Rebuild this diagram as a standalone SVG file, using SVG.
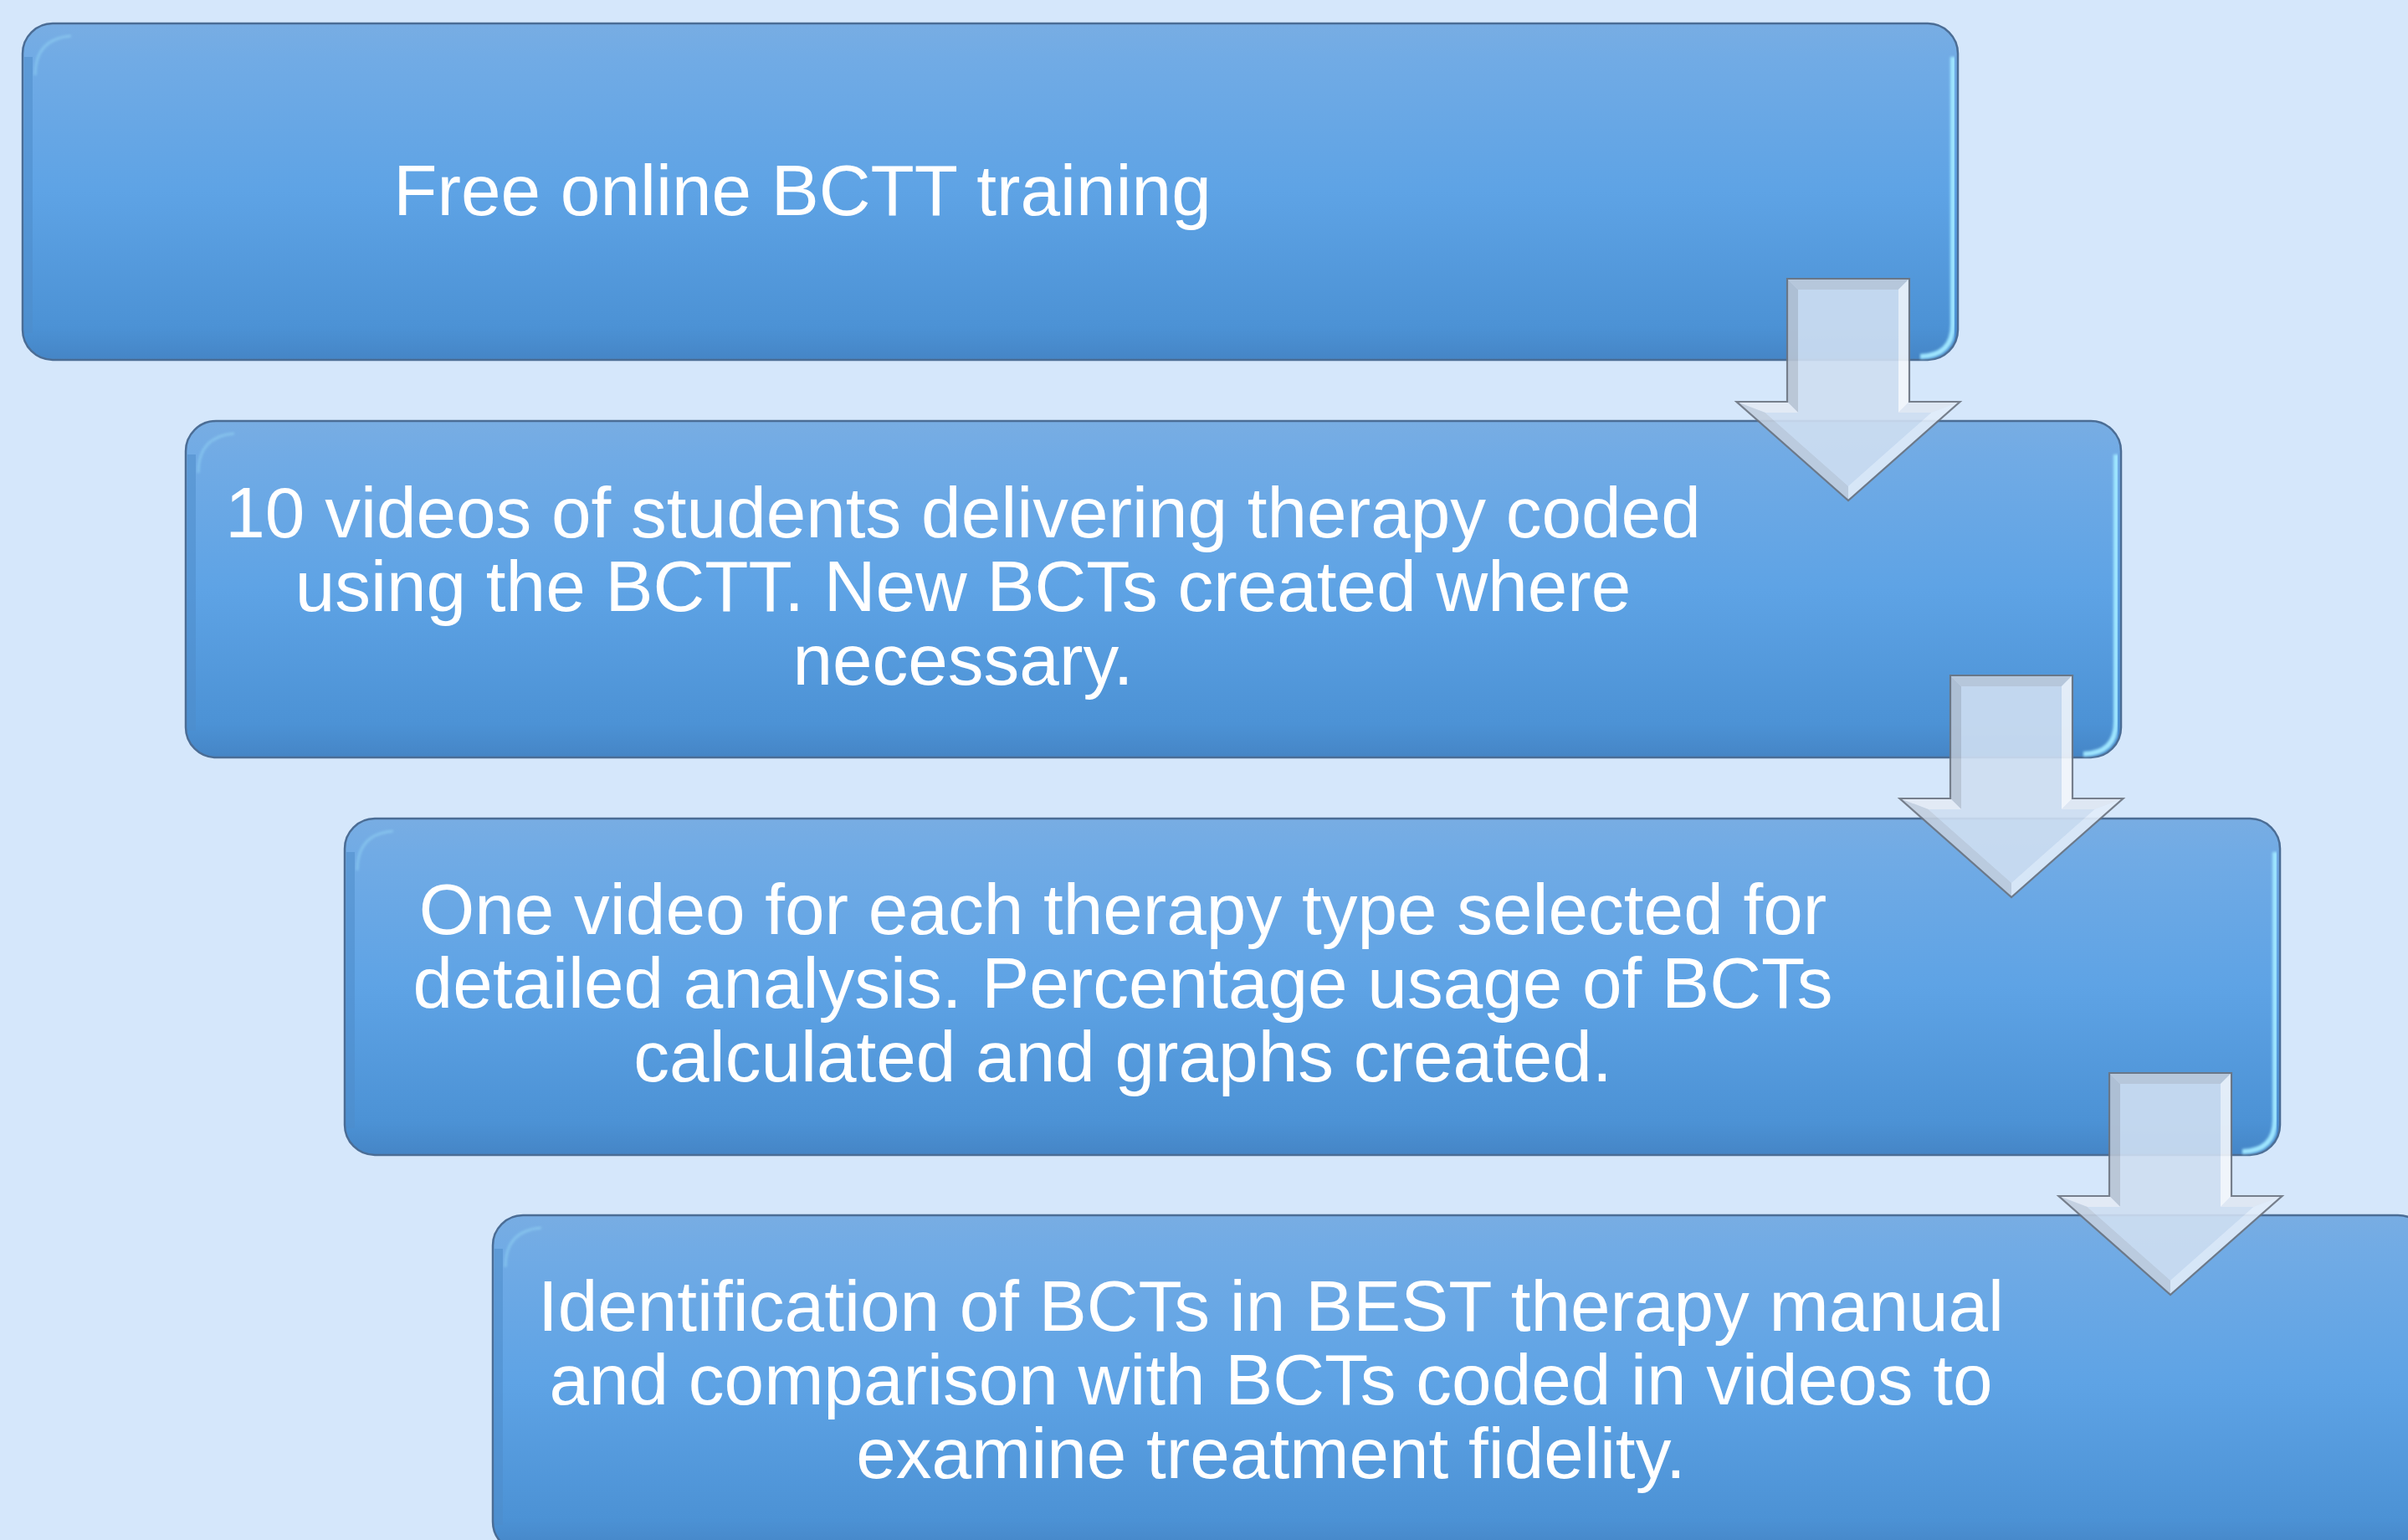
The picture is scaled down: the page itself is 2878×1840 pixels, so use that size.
<svg xmlns="http://www.w3.org/2000/svg" xmlns:xlink="http://www.w3.org/1999/xlink" width="2878" height="1840" viewBox="0 0 2878 1840">
  <style>
    .label { font-family: "Liberation Sans", Arial, sans-serif; font-size: 85.5px; fill: #ffffff; text-anchor: middle; }
    .hl-left { fill: none; stroke: #a8efff; stroke-width: 4; filter: url(#soft); }
    .hl-corner { fill: none; stroke: #a8efff; stroke-width: 3; opacity: 0.35; filter: url(#soft); }
    .hl-right { fill: none; stroke: #9fe6ff; stroke-width: 6; filter: url(#soft); }
    .edge-dark { fill: none; stroke: #4f8dcb; stroke-width: 10; opacity: 0.55; }
    .bev-outline { fill: none; stroke: #6c7480; stroke-width: 2.2; stroke-linejoin: miter; }
  </style>
  <defs>
    <linearGradient id="boxFill" x1="0" y1="0" x2="0" y2="1">
      <stop offset="0" stop-color="#78ade3"/>
      <stop offset="0.1" stop-color="#71abe5"/>
      <stop offset="0.5" stop-color="#5ea3e5"/>
      <stop offset="0.9" stop-color="#4c92d5"/>
      <stop offset="1" stop-color="#4585c6"/>
    </linearGradient>
    <filter id="soft" x="-5%" y="-5%" width="110%" height="110%">
      <feGaussianBlur stdDeviation="1.4"/>
    </filter>

    <!-- rounded process box, 2313 x 402 -->
    <g id="box">
      <rect x="0" y="0" width="2313" height="402" rx="36" ry="36" fill="url(#boxFill)" stroke="#4b6d95" stroke-width="2.5"/>
      <path class="edge-dark" d="M7,370 V40"/>
      <path class="hl-left" d="M15,372 V62"/>
      <path class="hl-corner" d="M15,62 Q15,18 58,15"/>
      <path class="hl-right" d="M2307,40 V360 Q2307,397 2268,398"/>
    </g>

    <!-- bevelled down arrow, origin at shaft top centre -->
    <g id="arrow" opacity="0.9">
      <polygon points="-73,0 73,0 73,147 133.5,147 0,265 -133.5,147 -73,147" fill="#d4e2f4"/>
      <!-- bevel facets -->
      <polygon points="-73,0 73,0 60,13 -60,13" fill="#c1cddc"/>
      <polygon points="-73,0 -60,13 -60,160 -73,147" fill="#b8c4d4"/>
      <polygon points="73,0 60,13 60,160 73,147" fill="#f3f7fc"/>
      <polygon points="-73,147 -133.5,147 -99.2,160 -60,160" fill="#e4ebf5"/>
      <polygon points="73,147 133.5,147 99.2,160 60,160" fill="#dfe8f3"/>
      <polygon points="-133.5,147 0,265 0,247.7 -99.2,160" fill="#c3cfdf"/>
      <polygon points="133.5,147 0,265 0,247.7 99.2,160" fill="#e2edfa"/>
      <!-- face -->
      <polygon points="-60,13 60,13 60,160 99.2,160 0,247.7 -99.2,160 -60,160" fill="#cfdff2"/>
      <polygon class="bev-outline" points="-73,0 73,0 73,147 133.5,147 0,265 -133.5,147 -73,147"/>
    </g>
  </defs>

  <rect width="2878" height="1840" fill="#d5e7fb"/>

  <g id="step1">
    <use xlink:href="#box" href="#box" x="27" y="28"/>
    <text class="label" x="959" y="257">Free online BCTT training</text>
  </g>

  <g id="step2">
    <use xlink:href="#box" href="#box" x="222" y="503"/>
    <text class="label" x="1151" y="642">10 videos of students delivering therapy coded</text>
    <text class="label" x="1151" y="730">using the BCTT. New BCTs created where</text>
    <text class="label" x="1151" y="818">necessary.</text>
  </g>

  <g id="step3">
    <use xlink:href="#box" href="#box" x="412" y="978"/>
    <text class="label" x="1342" y="1116">One video for each therapy type selected for</text>
    <text class="label" x="1342" y="1204">detailed analysis. Percentage usage of BCTs</text>
    <text class="label" x="1342" y="1292">calculated and graphs created.</text>
  </g>

  <g id="step4">
    <use xlink:href="#box" href="#box" x="589" y="1452"/>
    <text class="label" x="1519" y="1590">Identification of BCTs in BEST therapy manual</text>
    <text class="label" x="1519" y="1678">and comparison with BCTs coded in videos to</text>
    <text class="label" x="1519" y="1766">examine treatment fidelity.</text>
  </g>

  <g id="connectors">
    <use xlink:href="#arrow" href="#arrow" x="2209" y="333"/>
    <use xlink:href="#arrow" href="#arrow" x="2404" y="807"/>
    <use xlink:href="#arrow" href="#arrow" x="2594" y="1282"/>
  </g>
</svg>
